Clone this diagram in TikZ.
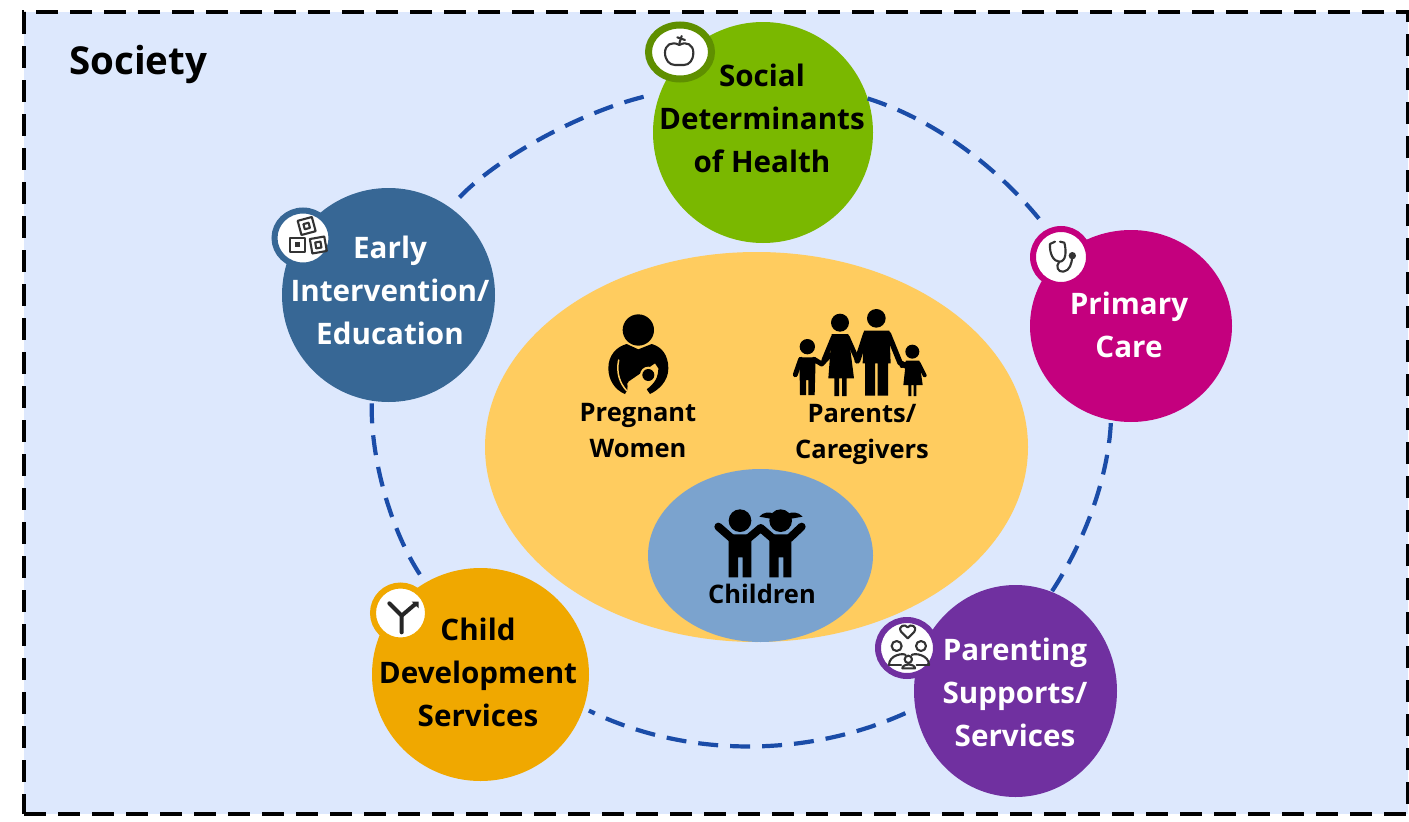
\documentclass[tikz,border=0pt]{standalone}
\usepackage{fontspec}
\setmainfont{Open Sans}
\usetikzlibrary{shapes.geometric}
\definecolor{bgblue}{HTML}{DDE8FD}
\definecolor{ringblue}{HTML}{1A4CA8}
\definecolor{sdh}{HTML}{7AB800}
\definecolor{sdhdark}{HTML}{5F8F00}
\definecolor{early}{HTML}{376795}
\definecolor{prim}{HTML}{C4007E}
\definecolor{parent}{HTML}{7030A0}
\definecolor{childdev}{HTML}{F0A800}
\definecolor{core}{HTML}{FFCC5F}
\definecolor{kids}{HTML}{7BA3CE}
\definecolor{icongrey}{HTML}{333333}
\tikzset{
  disc/.style={ellipse,inner sep=0pt,outer sep=0pt},
  ring/.style={draw=ringblue,line width=4.2pt,dash pattern=on 20pt off 12pt},
  biglabel/.style={align=center,font=\fontsize{29.6}{43}\selectfont\bfseries,inner sep=0pt},
  smalllabel/.style={align=center,font=\fontsize{25.5}{36}\selectfont\bfseries,inner sep=0pt,text=black},
  glyph/.style={draw=icongrey,line width=2.1pt,fill=none,line cap=round,line join=round},
  limb/.style={draw=black,line cap=round,line join=round},
}
\begin{document}
\begin{tikzpicture}[x=1pt,y=-1pt]
\useasboundingbox (0,0) rectangle (1409,822);
\fill[white] (0,0) rectangle (1409,822);
\node[rectangle,draw=black,fill=bgblue,line width=4pt,dash pattern=on 22pt off 12pt,inner sep=0pt,outer sep=0pt,minimum width=1384pt,minimum height=802pt] (society) at (716,413) {};
\node[anchor=west,inner sep=0pt,font=\fontsize{38.5}{46}\selectfont\bfseries] (societylabel) at (69,64) {Society};
% central ellipses
\node[disc,fill=core,minimum width=543pt,minimum height=390pt] (centre) at (756.5,447) {};
\node[disc,fill=kids,minimum width=225pt,minimum height=173pt] (kidsdisc) at (760.5,555.5) {};
% discs
\node[disc,fill=sdh,minimum width=220pt,minimum height=221pt] (social) at (763,132.5) {};
\node[disc,fill=early,minimum width=213pt,minimum height=214pt] (earlyd) at (388.5,295) {};
\node[disc,fill=prim,minimum width=202pt,minimum height=192pt] (primary) at (1131,326) {};
\node[disc,fill=parent,minimum width=203pt,minimum height=212pt] (parenting) at (1015.5,691) {};
\node[disc,fill=childdev,minimum width=217pt,minimum height=213pt] (child) at (480.5,674.5) {};
% icon badges
\node[disc,fill=white,draw=sdhdark,line width=7pt,minimum width=63pt,minimum height=54pt] (iconS) at (680,52) {};
\node[disc,fill=white,draw=early,line width=6pt,minimum width=57pt,minimum height=55pt] (iconE) at (303,238) {};
\node[disc,fill=white,draw=prim,line width=6pt,minimum width=56pt,minimum height=56pt] (iconP) at (1061,257) {};
\node[disc,fill=white,draw=parent,line width=6pt,minimum width=58pt,minimum height=56pt] (iconV) at (907,648) {};
\node[disc,fill=white,draw=childdev,line width=6pt,minimum width=55pt,minimum height=55pt] (iconC) at (400.5,613) {};
% dashed ring
\draw[ring,shorten >=5pt] (social.18) .. controls (939,121) and (1004,173) .. (iconP.115);
\draw[ring,shorten <=3pt] (primary.-102) .. controls (1108,478) and (1085,541) .. (parenting.70);
\draw[ring,shorten <=11pt,shorten >=6pt] (parenting.190) .. controls (806,758) and (686,758) .. (child.-18);
\draw[ring,shorten <=10pt,shorten >=0pt] (child.121) .. controls (392,532) and (370,460) .. (earlyd.-99);
\draw[ring,shorten <=14pt,shorten >=8pt] (earlyd.55) .. controls (499,156) and (586,109) .. (social.159);
% labels
\node[biglabel,text=black] (l1) at (762,118) {Social\\Determinants\\of Health};
\node[biglabel,text=white] (l2) at (390,290.5) {Early\\Intervention/\\Education};
\node[biglabel,text=white] (l3) at (1129,324.5) {Primary\\Care};
\node[biglabel,text=black] (l4) at (478,672.5) {Child\\Development\\Services};
\node[biglabel,text=white] (l5) at (1015,692.5) {Parenting\\Supports/\\Services};
\node[smalllabel] (l6) at (638,431) {Pregnant\\Women};
\node[smalllabel] (l7) at (862,434) {Parents/\\Caregivers};
\node[smalllabel] (l8) at (762,594) {Children};
% family pictogram
\begin{scope}[shift={(780,300)},scale=1/3]
\fill (82,140) circle[radius=23];
\fill (58,172) -- (107,172) -- (104,285) -- (85,285) -- (85,240) -- (78,240) -- (78,285) -- (60,285) -- cycle;
\draw[limb,line width=5pt] (62,178) -- (46,224);
\draw[limb,line width=5pt] (102,178) -- (125,192) -- (150,165);
\fill (180,68) circle[radius=27];
\fill (155,102) -- (205,102) -- (222,235) -- (200,235) -- (200,288) -- (186,288) -- (186,235) -- (177,235) -- (177,288) -- (163,288) -- (163,235) -- (145,235) -- cycle;
\draw[limb,line width=5pt] (160,112) -- (132,180);
\draw[limb,line width=5pt] (202,112) -- (232,180);
\fill (289,55) circle[radius=28];
\fill (252,92) -- (328,92) -- (332,190) -- (324,190) -- (324,287) -- (293,287) -- (293,190) -- (285,190) -- (285,287) -- (255,287) -- (255,190) -- (248,190) -- cycle;
\draw[limb,line width=6pt] (258,102) -- (232,182);
\draw[limb,line width=5.5pt] (325,102) -- (360,188) -- (378,198);
\fill (397,155) circle[radius=21];
\fill (378,182) -- (418,182) -- (428,255) -- (409,255) -- (409,288) -- (401,288) -- (401,255) -- (394,255) -- (394,288) -- (385,288) -- (385,255) -- (370,255) -- cycle;
\draw[limb,line width=4pt] (416,190) -- (434,226);
\draw[limb,line width=4pt] (380,190) -- (365,198);
\end{scope}
% mother pictogram
\begin{scope}[shift={(590,300)},scale=1/3]
\fill (145,90) circle[radius=47];
\fill (105,282) .. controls (75,270) and (55,240) .. (55,205) .. controls (55,165) and (80,140) .. (110,132) -- (145,148) -- (185,132) .. controls (215,140) and (235,165) .. (235,205) .. controls (235,245) and (205,270) .. (180,282) -- (170,268) .. controls (195,250) and (205,230) .. (205,205) -- (195,190) -- (115,245) -- (112,270) -- cycle;
\draw[core,line width=1.5pt,line cap=round] (86,180) .. controls (78,220) and (90,250) .. (110,272);
\fill[core] (112,250) -- (150,232) -- (170,268) -- (150,300) -- (115,290) -- cycle;
\fill[core] (175,225) circle[radius=25];
\fill (175,225) circle[radius=18];
\end{scope}
% children pictogram
\begin{scope}[shift={(700,500)},scale=1/3]
\fill (120,62) circle[radius=34];
\fill (242,62) circle[radius=34];
\fill (178,50) .. controls (190,35) and (210,35) .. (222,42) -- (222,58) -- cycle;
\fill (308,50) .. controls (295,35) and (275,35) .. (262,42) -- (262,58) -- cycle;
\fill (86,103) -- (154,103) -- (154,232) -- (128,232) -- (128,172) -- (114,172) -- (114,232) -- (86,232) -- cycle;
\fill (208,103) -- (274,103) -- (274,232) -- (250,232) -- (250,172) -- (236,172) -- (236,232) -- (208,232) -- cycle;
\draw[limb,line width=8pt] (55,80) -- (95,115);
\draw[limb,line width=8pt] (145,115) -- (182,84) -- (218,115);
\draw[limb,line width=8pt] (305,80) -- (268,115);
\end{scope}
% apple glyph
\begin{scope}[shift={(630,10)},scale=1/3]
\draw[glyph] (148,105) .. controls (125,92) and (105,105) .. (105,128) .. controls (105,150) and (118,165) .. (135,165) -- (162,165) .. controls (178,165) and (190,150) .. (190,128) .. controls (190,105) and (170,92) .. (148,105);
\draw[glyph] (148,100) -- (155,78);
\draw[glyph] (142,82) -- (165,90);
\end{scope}
% blocks glyph
\begin{scope}[shift={(260,200)},scale=1/3]
\draw[glyph,rotate around={15:(140,78)}] (118,56) rectangle (162,100);
\draw[glyph,rotate around={15:(140,78)}] (132,70) rectangle (148,86);
\draw[glyph] (90,113) rectangle (135,155);
\fill[icongrey] (106,126) rectangle (120,142);
\draw[glyph,rotate around={10:(175,135)}] (153,113) rectangle (197,157);
\draw[glyph,rotate around={10:(175,135)}] (167,126) rectangle (183,144);
\end{scope}
% stethoscope glyph
\begin{scope}[shift={(1020,220)},scale=1/3]
\draw[glyph] (105,65) -- (90,72) .. controls (88,100) and (100,125) .. (118,125) .. controls (138,125) and (140,95) .. (133,68) -- (120,65);
\draw[glyph] (118,125) .. controls (105,140) and (115,157) .. (130,155) .. controls (150,152) and (155,130) .. (157,110);
\fill[icongrey] (157,107) circle[radius=11];
\end{scope}
% family-support glyph
\begin{scope}[shift={(865,610)},scale=1/3]
\draw[glyph] (128,85) -- (108,65) .. controls (98,48) and (120,40) .. (128,52) .. controls (136,40) and (158,48) .. (148,65) -- cycle;
\draw[glyph] (95,108) circle[radius=15];
\draw[glyph] (168,108) circle[radius=15];
\draw[glyph] (130,148) circle[radius=11];
\draw[glyph] (72,165) .. controls (72,135) and (115,128) .. (122,135);
\draw[glyph] (192,165) .. controls (192,135) and (150,128) .. (140,135);
\draw[glyph] (72,165) -- (108,165);
\draw[glyph] (155,165) -- (192,165);
\draw[glyph] (112,175) .. controls (112,160) and (150,160) .. (150,175) -- cycle;
\end{scope}
% fork glyph
\begin{scope}[shift={(360,575)},scale=1/3]
\draw[draw=black!85,line width=4pt,line cap=round,line join=round] (88,85) -- (125,122) -- (125,172);
\draw[draw=black!85,line width=4pt,line cap=round,line join=round] (125,122) -- (165,88);
\fill[black!85] (155,80) -- (176,80) -- (176,100) -- cycle;
\end{scope}
\end{tikzpicture}
\end{document}
